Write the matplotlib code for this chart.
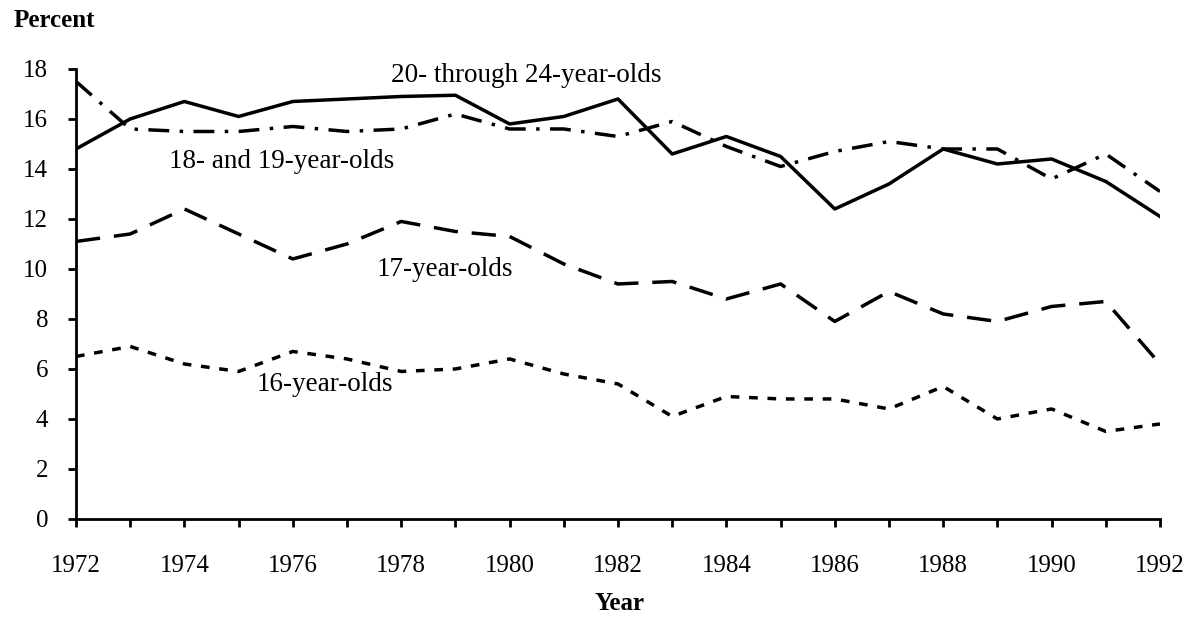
import matplotlib

matplotlib.use("Agg")
import matplotlib.pyplot as plt

years = list(range(1972, 1993))

age_20_24 = [14.8, 16.0, 16.7, 16.1, 16.7, 16.8, 16.9, 16.95, 15.8, 16.1, 16.8,
             14.6, 15.3, 14.5, 12.4, 13.4, 14.8, 14.2, 14.4, 13.5, 12.1]
age_18_19 = [17.5, 15.6, 15.5, 15.5, 15.7, 15.5, 15.6, 16.2, 15.6, 15.6, 15.3,
             15.9, 14.9, 14.1, 14.7, 15.1, 14.8, 14.8, 13.6, 14.6, 13.1]
age_17 = [11.1, 11.4, 12.4, 11.4, 10.4, 11.0, 11.9, 11.5, 11.3, 10.2, 9.4,
          9.5, 8.8, 9.4, 7.9, 9.1, 8.2, 7.9, 8.5, 8.7, 6.2]
age_16 = [6.5, 6.9, 6.2, 5.9, 6.7, 6.4, 5.9, 6.0, 6.4, 5.8, 5.4,
          4.1, 4.9, 4.8, 4.8, 4.4, 5.3, 4.0, 4.4, 3.5, 3.8]

plt.rcParams["font.family"] = ["Liberation Serif", "DejaVu Serif"]

fig = plt.figure(figsize=(11.95, 6.26), dpi=100)
ax = fig.add_axes([0.0636, 0.171, 0.9071, 0.7188])

lw = 2.5
ax.plot(years, age_20_24, color="black", linewidth=lw, linestyle="-")
ax.plot(years, age_18_19, color="black", linewidth=lw, linestyle=(0, (6, 3, 1, 3)))
ax.plot(years, age_17, color="black", linewidth=lw, linestyle=(0, (7, 4)))
ax.plot(years, age_16, color="black", linewidth=lw, linestyle=(0, (2.5, 2.8)))

ax.set_xlim(1972, 1992)
ax.set_ylim(0, 18)
ax.set_xticks(range(1972, 1993))
ax.set_xticklabels([str(y) if y % 2 == 0 else "" for y in years])
ax.set_yticks(range(0, 19, 2))

for side in ["top", "right"]:
    ax.spines[side].set_visible(False)
for side in ["left", "bottom"]:
    ax.spines[side].set_linewidth(2.0)
ax.tick_params(axis="both", direction="out", length=6, width=2, labelsize=18)
ax.tick_params(axis="x", pad=20)
ax.tick_params(axis="y", pad=14)

label_size = 19.5
ax.text(1980.3, 17.75, "20- through 24-year-olds", fontsize=label_size, ha="center", va="center")
ax.text(1975.8, 14.28, "18- and 19-year-olds", fontsize=label_size, ha="center", va="center")
ax.text(1978.8, 9.96, "17-year-olds", fontsize=label_size, ha="center", va="center")
ax.text(1976.6, 5.36, "16-year-olds", fontsize=label_size, ha="center", va="center")

fig.text(0.011, 0.967, "Percent", fontsize=18, fontweight="bold", ha="left", va="center")
fig.text(0.518, 0.036, "Year", fontsize=18, fontweight="bold", ha="center", va="center")

fig.savefig("out.png", dpi=100)
